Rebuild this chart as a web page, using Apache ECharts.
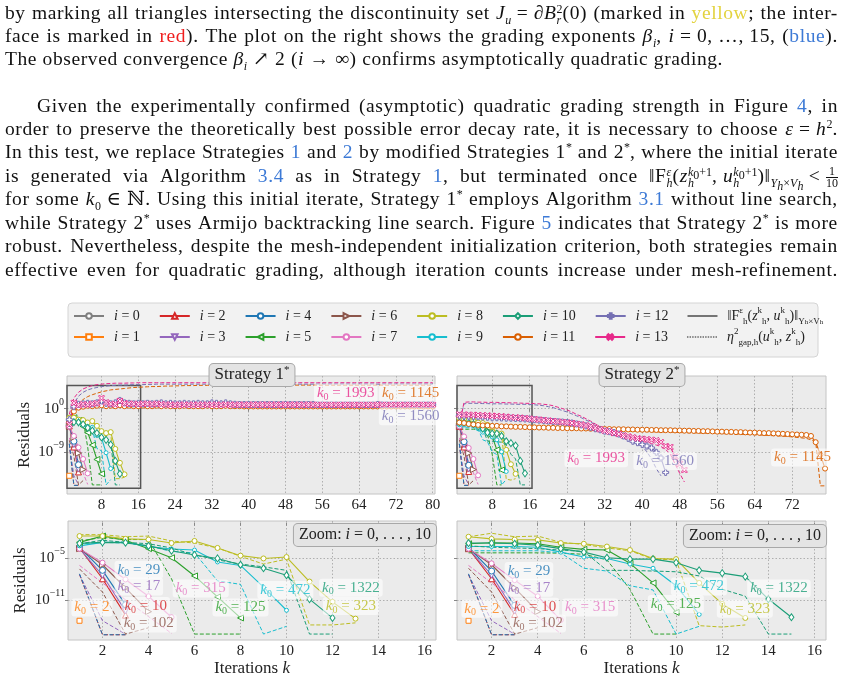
<!DOCTYPE html>
<html>
<head>
<meta charset="utf-8">
<script src="https://cdn.jsdelivr.net/npm/echarts@6/dist/echarts.min.js"></script>
<style>
html, body { margin: 0; padding: 0; background: #fff; }
#chart { position: absolute; left: 0; top: 0; width: 843px; height: 692px; }
.ln { position: absolute; left: 5px; width: 833px; height: 24px; line-height: 24px;
      font-family: 'Liberation Serif', 'DejaVu Serif', serif; font-size: 19.5px; letter-spacing: 0.6px;
      color: #111; white-space: nowrap; }
.j { display: flex; justify-content: space-between; }
.lk { color: #3d7ad6; }
sup, sub { font-size: 12px; line-height: 0; letter-spacing: 0; }
.ss { display: inline-flex; flex-direction: column; font-size: 12px; line-height: 11px; vertical-align: 6px; letter-spacing: 0; }
.fr { display: inline-flex; flex-direction: column; font-size: 12px; line-height: 11px; vertical-align: 7px; text-align: center; letter-spacing: 0; }
.fr span + span { border-top: 1px solid #111; }
</style>
</head>
<body>
<div id="chart"></div>
<div id="text"></div>
<script>
// ---- data: residual exponents log10(value), index = k - 1 ----
var colors = ['#7f7f7f', '#ff7f0e', '#d62728', '#9467bd', '#1f77b4', '#2ca02c', '#8c564b',
              '#e377c2', '#bcbd22', '#17becf', '#1b9e77', '#d95f02', '#7570b3', '#e7298a'];
var names = ['i = 0', 'i = 1', 'i = 2', 'i = 3', 'i = 4', 'i = 5', 'i = 6',
             'i = 7', 'i = 8', 'i = 9', 'i = 10', 'i = 11', 'i = 12', 'i = 13'];
var k0Values = ['', '2', '10', '17', '29', '125', '102', '315', '323', '472', '1322', '1145', '1560', '1993'];

var kTicksTop1 = [8, 16, 24, 32, 40, 48, 56, 64, 72, 80];
var kTicksTop2 = [8, 16, 24, 32, 40, 48, 56, 64, 72];
var kTicksZoom = [2, 4, 6, 8, 10, 12, 14, 16];
var expTicksTop = [-9, 0];
var expTicksZoom = [-11, -5];

// Strategy 1*: ||F|| residuals
var res1 = [
  [],
  [-14.0],
  [-3.6, -8.0, -13.2],
  [-3.7, -7.5, -12.6],
  [-3.5, -6.8, -11.7],
  [-2.8, -1.9, -2.5, -3.7, -5.0, -7.6, -10.6, -13.6],
  [-3.7, -6.0, -9.3, -12.7],
  [-3.7, -5.7, -8.1, -10.5, -13.5],
  [-1.9, -1.9, -2.3, -2.4, -2.9, -2.6, -3.6, -4.7, -5.1, -4.9, -8.4, -11.3, -13.7],
  [-3.3, -2.8, -2.8, -3.4, -3.75, -3.9, -5.6, -6.1, -9.2, -12.5],
  [-2.95, -2.8, -2.85, -3.3, -4.0, -4.6, -5.1, -6.0, -6.5, -7.5, -10.9, -13.6],
  [-2.9, -0.6, 0.2, 0.4, 0.6, 0.5, 0.6, 0.7,
   0.5, 0.6, 0.5, 0.7, 0.5, 0.6, 0.5, 0.5,
   0.6, 0.5, 0.5, 0.6, 0.5, 0.6, 0.5, 0.5,
   0.5, 0.6, 0.5, 0.5, 0.5, 0.5, 0.6, 0.5,
   0.5, 0.5, 0.6, 0.5, 0.5, 0.5, 0.45, 0.45,
   0.45, 0.45, 0.45, 0.45, 0.45, 0.45, 0.45, 0.45,
   0.45, 0.45, 0.45, 0.45, 0.45, 0.45, 0.45, 0.45,
   0.45, 0.45, 0.45, 0.45, 0.45, 0.45, 0.45, 0.45,
   0.45, 0.45, 0.45, 0.45, 0.45, 0.45, 0.45, 0.45,
   0.45, 0.45, 0.45, 0.45, 0.45, 0.45, 0.45, 0.45],
  [-2.3, 0.4, 0.9, 1.0, 1.1, 1.0, 1.2, 1.6,
   1.1, 1.0, 1.2, 1.7, 1.2, 1.1, 1.0, 1.1,
   1.0, 1.1, 1.0, 1.1, 1.2, 1.0, 1.1, 1.0,
   1.0, 1.1, 1.0, 1.0, 1.1, 1.0, 1.0, 1.2,
   1.1, 1.0, 1.2, 1.0, 0.9, 0.85, 0.85, 0.85,
   0.85, 0.85, 0.85, 0.85, 0.85, 0.85, 0.85, 0.85,
   0.85, 0.85, 0.85, 0.85, 0.85, 0.85, 0.85, 0.85,
   0.85, 0.85, 0.85, 0.85, 0.85, 0.85, 0.85, 0.85,
   0.85, 0.85, 0.85, 0.85, 0.85, 0.85, 0.85, 0.85,
   0.85, 0.85, 0.85, 0.85, 0.85, 0.85, 0.85, 0.85],
  [-3.3, 1.2, 0.7, 0.9, 0.8, 1.0, 1.1, 2.2,
   1.3, 1.0, 0.9, 1.6, 1.1, 1.0, 1.0, 0.9,
   1.0, 1.0, 0.9, 1.0, 0.9, 0.85, 0.8, 0.8,
   0.8, 0.8, 0.8, 0.8, 0.8, 0.8, 0.8, 0.8,
   0.8, 0.8, 0.8, 0.8, 0.8, 0.8, 0.8, 0.8,
   0.8, 0.8, 0.8, 0.8, 0.8, 0.8, 0.8, 0.8,
   0.8, 0.8, 0.8, 0.8, 0.8, 0.8, 0.8, 0.8,
   0.8, 0.8, 0.8, 0.8, 0.8, 0.8, 0.8, 0.8,
   0.8, 0.8, 0.8, 0.8, 0.8, 0.8, 0.8, 0.8,
   0.8, 0.8, 0.8, 0.8, 0.8, 0.8, 0.8, 0.8]
];
// Strategy 1*: eta^2 gap estimator
var gap1 = [
  [],
  [],
  [-7.4, -16.0, -16.0],
  [-7.4, -14.0, -15.9],
  [-7.3, -16.0, -16.0],
  [-2.6, -2.1, -2.4, -2.4, -8.0, -15.9, -15.9, -15.9],
  [-6.6, -9.9, -15.9, -15.0],
  [-6.1, -8.6, -11.0, -13.4, -15.8],
  [-1.7, -1.7, -2.0, -1.9, -2.6, -2.9, -3.6, -4.8, -5.9, -5.2, -14.6, -14.6, -14.3],
  [-3.0, -2.8, -2.9, -3.3, -4.1, -4.3, -8.3, -8.8, -15.9, -14.8],
  [-3.0, -2.5, -2.8, -3.0, -3.6, -4.6, -5.3, -5.9, -6.3, -6.8, -15.9, -15.9],
  [-2.6, -0.3, 1.0, 1.9, 2.5, 2.9, 3.2, 3.5,
   3.7, 3.9, 4.0, 4.1, 4.2, 4.3, 4.4, 4.45,
   4.5, 4.55, 4.6, 4.6, 4.65, 4.7, 4.7, 4.75,
   4.75, 4.8, 4.8, 4.8, 4.85, 4.85, 4.85, 4.9,
   4.9, 4.9, 4.9, 4.9, 4.9, 4.9, 4.9, 4.9,
   4.9, 4.9, 4.9, 4.9, 4.9, 4.9, 4.9, 4.9,
   4.9, 4.9, 4.9, 4.9, 4.9, 4.9, 4.9, 4.9,
   4.9, 4.9, 4.9, 4.9, 4.9, 4.9, 4.9, 4.9,
   4.9, 4.9, 4.9, 4.9, 4.9, 4.9, 4.9, 4.9,
   4.9, 4.9, 4.9, 4.9, 4.9, 4.9, 4.9, 4.9],
  [-2.0, 1.0, 2.6, 3.4, 3.9, 4.2, 4.4, 4.6,
   4.7, 4.8, 4.85, 4.9, 4.9, 4.95, 5.0, 5.0,
   5.0, 5.05, 5.05, 5.1, 5.1, 5.1, 5.1, 5.1,
   5.1, 5.1, 5.1, 5.1, 5.1, 5.1, 5.1, 5.1,
   5.1, 5.1, 5.1, 5.1, 5.1, 5.1, 5.1, 5.1,
   5.1, 5.1, 5.1, 5.1, 5.1, 5.1, 5.1, 5.1,
   5.1, 5.1, 5.1, 5.1, 5.1, 5.1, 5.1, 5.1,
   5.1, 5.1, 5.1, 5.1, 5.1, 5.1, 5.1, 5.1,
   5.1, 5.1, 5.1, 5.1, 5.1, 5.1, 5.1, 5.1,
   5.1, 5.1, 5.1, 5.1, 5.1, 5.1, 5.1, 5.1],
  [-1.2, 2.2, 3.4, 4.1, 4.5, 4.8, 5.0, 5.1,
   5.2, 5.25, 5.3, 5.3, 5.3, 5.35, 5.35, 5.4,
   5.4, 5.4, 5.4, 5.4, 5.4, 5.4, 5.4, 5.4,
   5.4, 5.4, 5.4, 5.4, 5.4, 5.4, 5.4, 5.4,
   5.4, 5.4, 5.4, 5.4, 5.4, 5.4, 5.4, 5.4,
   5.4, 5.4, 5.4, 5.4, 5.4, 5.4, 5.4, 5.4,
   5.4, 5.4, 5.4, 5.4, 5.4, 5.4, 5.4, 5.4,
   5.4, 5.4, 5.4, 5.4, 5.4, 5.4, 5.4, 5.4,
   5.4, 5.4, 5.4, 5.4, 5.4, 5.4, 5.4, 5.4,
   5.4, 5.4, 5.4, 5.4, 5.4, 5.4, 5.4, 5.4]
];

// Strategy 2*: ||F|| residuals
var res2 = [
  [],
  [-14.0],
  [-3.7, -8.0, -13.1],
  [-3.7, -7.5, -12.6],
  [-3.5, -6.9, -11.8],
  [-3.0, -2.85, -2.9, -3.0, -3.5, -3.8, -3.9, -5.8, -8.6, -12.8],
  [-3.7, -6.0, -9.3, -12.7],
  [-3.7, -5.8, -8.2, -10.5, -13.9],
  [-2.0, -2.3, -2.4, -2.45, -2.9, -3.0, -3.4, -3.9, -5.1, -5.2, -8.6, -11.6, -13.6],
  [-3.4, -3.4, -3.4, -3.5, -4.2, -4.9, -5.1, -5.9, -6.5, -9.0, -13.1],
  [-2.9, -2.9, -3.0, -3.2, -3.7, -4.2, -5.0, -5.2, -5.2, -5.7, -6.8, -7.2, -7.7, -10.9, -13.5],
  [-2.9, -3.0, -3.2, -3.3, -3.4, -3.5, -3.5, -3.6,
   -3.6, -3.7, -3.7, -3.75, -3.8, -3.8, -3.85, -3.9,
   -3.9, -3.95, -3.95, -4.0, -4.0, -4.05, -4.05, -4.1,
   -4.1, -4.1, -4.15, -4.15, -4.2, -4.2, -4.2, -4.25,
   -4.25, -4.3, -4.3, -4.3, -4.35, -4.35, -4.4, -4.4,
   -4.4, -4.45, -4.45, -4.5, -4.5, -4.5, -4.55, -4.55,
   -4.6, -4.6, -4.65, -4.65, -4.7, -4.7, -4.75, -4.8,
   -4.8, -4.85, -4.85, -4.9, -4.9, -4.95, -5.0, -5.0,
   -5.05, -5.1, -5.1, -5.15, -5.2, -5.25, -5.3, -5.35,
   -5.4, -5.45, -5.5, -5.7, -7.0, -9.6, -12.5],
  [-1.5, -1.55, -1.6, -1.65, -1.7, -1.75, -1.8, -1.9,
   -1.9, -1.95, -2.0, -2.0, -2.05, -2.1, -2.15, -2.2,
   -2.3, -2.4, -2.5, -2.6, -2.7, -2.75, -2.8, -2.9,
   -3.0, -3.2, -3.4, -3.6, -3.9, -4.2, -4.4, -4.7,
   -4.8, -5.0, -5.3, -5.7, -6.2, -6.8, -7.1, -7.5,
   -7.8, -8.2, -9.1, -10.3, -13.3],
  [-1.2, -1.25, -1.3, -1.3, -1.35, -1.4, -1.45, -1.5,
   -1.55, -1.6, -1.7, -1.8, -1.85, -1.9, -2.0, -2.1,
   -2.2, -2.3, -2.4, -2.5, -2.6, -2.7, -2.8, -2.9,
   -3.0, -3.2, -3.3, -3.5, -3.7, -4.0, -4.3, -4.6,
   -4.8, -5.1, -5.3, -5.6, -5.8, -6.0, -6.2, -6.3,
   -6.4, -6.5, -6.6, -7.0, -7.8, -8.0, -10.0, -11.5,
   -12.8]
];
// Strategy 2*: eta^2 gap estimator
var gap2 = [
  [],
  [],
  [-7.4, -16.0, -16.0],
  [-7.4, -14.0, -15.9],
  [-7.3, -16.0, -16.0],
  [-4.3, -4.3, -4.3, -4.3, -4.35, -4.5, -5.3, -9.5, -15.9, -15.9],
  [-6.5, -9.9, -15.9, -15.0],
  [-6.1, -8.6, -11.0, -13.4, -15.8],
  [-2.0, -1.5, -2.0, -1.9, -2.8, -3.1, -3.6, -4.0, -5.2, -5.3, -14.7, -14.9, -14.6],
  [-4.0, -4.0, -4.0, -4.0, -4.3, -6.5, -6.9, -9.0, -9.6, -15.9, -14.8],
  [-3.3, -3.5, -3.6, -3.7, -3.9, -4.1, -6.8, -6.8, -6.9, -7.0, -7.6, -9.5, -10.5, -15.9, -15.9],
  [-2.6, -2.8, -3.0, -3.1, -3.2, -3.3, -3.35, -3.4,
   -3.45, -3.5, -3.55, -3.6, -3.65, -3.7, -3.75, -3.8,
   -3.85, -3.9, -3.95, -4.0, -4.05, -4.1, -4.15, -4.2,
   -4.25, -4.3, -4.35, -4.4, -4.45, -4.5, -4.55, -4.6,
   -4.6, -4.65, -4.65, -4.7, -4.7, -4.75, -4.75, -4.8,
   -4.8, -4.85, -4.85, -4.9, -4.9, -4.95, -4.95, -5.0,
   -5.0, -5.05, -5.05, -5.1, -5.1, -5.15, -5.15, -5.2,
   -5.2, -5.25, -5.3, -5.3, -5.35, -5.4, -5.4, -5.45,
   -5.5, -5.55, -5.6, -5.65, -5.7, -5.75, -5.8, -5.9,
   -6.0, -6.1, -6.2, -6.5, -6.9, -16.1, -16.1],
  [-3.0, 1.0, 1.1, 1.1, 1.1, 1.05, 1.05, 1.0,
   1.0, 1.0, 0.95, 0.95, 0.9, 0.9, 0.9, 0.85,
   0.8, 0.7, 0.6, 0.4, 0.2, -0.1, -0.4, -0.7,
   -1.1, -1.5, -1.9, -2.4, -2.8, -3.3, -3.8, -4.3,
   -4.6, -5.0, -5.4, -5.8, -6.2, -6.6, -7.1, -7.8,
   -9.0, -10.5, -12.5, -14.0],
  [-3.3, 1.3, 1.4, 1.4, 1.35, 1.35, 1.3, 1.3,
   1.3, 1.25, 1.25, 1.2, 1.2, 1.15, 1.1, 1.1,
   1.05, 1.0, 0.9, 0.8, 0.6, 0.3, 0.0, -0.3,
   -0.7, -1.2, -1.6, -2.1, -2.6, -3.2, -3.8, -4.5,
   -4.9, -5.2, -5.5, -5.8, -6.0, -6.2, -6.5, -6.8,
   -7.0, -7.3, -7.6, -7.9, -8.5, -9.5, -11.5, -13.5,
   -15.3]
];

// ---- annotation placement (label centres in data units: [k, exponent]) ----
var zoomLabelAt1 = {1: [1.54, -12.1], 2: [3.88, -11.9], 3: [3.58, -9.1], 4: [3.58, -6.7], 5: [8.0, -12.1],
                    6: [4.01, -14.4], 7: [6.27, -9.4], 8: [12.8, -11.9], 9: [9.95, -9.6], 10: [12.8, -9.3]};
var zoomLabelAt2 = {1: [1.58, -12.3], 2: [3.88, -12.0], 3: [3.62, -9.3], 4: [3.62, -6.9], 5: [9.99, -11.6],
                    6: [4.01, -14.4], 7: [6.27, -12.1], 8: [12.98, -12.3], 9: [10.99, -9.1], 10: [14.46, -9.4]};
var topLabelAt1 = {11: [75.2, 3.25], 12: [75.2, -1.6], 13: [61.1, 3.25]};
var topLabelAt2 = {11: [74.2, -10.2], 12: [44.9, -10.9], 13: [30.2, -10.35]};

var FONT = "'Liberation Serif', 'DejaVu Serif', serif";
var plusPath = 'path://M-1,-3H1V-1H3V1H1V3H-1V1H-3V-1H-1Z';
var xPath = 'path://M-2,-3L0,-1L2,-3L3,-2L1,0L3,2L2,3L0,1L-2,3L-3,2L-1,0L-3,-2Z';
var marks = [
  ['circle', 4, 0], ['rect', 5, 0], ['triangle', 6, 0], ['triangle', 6, 180], ['circle', 6, 0],
  ['triangle', 6, 90], ['triangle', 6, -90], ['circle', 5, 0], ['circle', 5, 0], ['circle', 4, 0],
  ['diamond', [5, 7], 0], ['circle', 5, 0], [plusPath, 6, 0], [xPath, 6, 0]
];

function pts(arr) {
  return arr.map(function (v, j) { return [j + 1, v]; });
}

var series = [];

function addRuns(g, res, gap, count) {
  for (var i = 0; i < count; i++) {
    var c = colors[i];
    series.push({
      type: 'line', name: names[i], xAxisIndex: g, yAxisIndex: g, data: pts(res[i]),
      symbol: marks[i][0], symbolSize: marks[i][1], symbolRotate: marks[i][2],
      showSymbol: true, showAllSymbol: true,
      itemStyle: {color: '#fff', borderColor: c, borderWidth: 1},
      lineStyle: {color: c, width: 1.1},
      emphasis: {disabled: true}, silent: true
    });
    series.push({
      type: 'line', name: names[i], xAxisIndex: g, yAxisIndex: g, data: pts(gap[i]),
      symbol: 'none', lineStyle: {color: c, width: 1, type: [4, 2]},
      emphasis: {disabled: true}, silent: true
    });
  }
}

// legend helper series (black line styles)
series.push({type: 'line', name: 'F', xAxisIndex: 0, yAxisIndex: 0, data: [], symbol: 'none',
             itemStyle: {color: '#222'}, lineStyle: {color: '#222', width: 1.2}});
series.push({type: 'line', name: 'eta', xAxisIndex: 0, yAxisIndex: 0, data: [], symbol: 'none',
             itemStyle: {color: '#222'}, lineStyle: {color: '#222', width: 1, type: [2, 1.5]}});

addRuns(0, res1, gap1, 14);
addRuns(1, res2, gap2, 14);
addRuns(2, res1, gap1, 11);
addRuns(3, res2, gap2, 11);

var labelRich = {
  it: {fontFamily: FONT, fontStyle: 'italic', fontSize: 15, lineHeight: 18},
  sub: {fontFamily: FONT, fontSize: 10, verticalAlign: 'bottom'}
};

function addLabels(g, at) {
  Object.keys(at).forEach(function (key) {
    var i = +key;
    series.push({
      type: 'scatter', xAxisIndex: g, yAxisIndex: g, symbolSize: 1, silent: true,
      itemStyle: {color: 'rgba(0,0,0,0)'}, z: 10,
      data: [at[key]],
      label: {
        show: true, position: 'inside', color: colors[i],
        fontFamily: FONT, fontSize: 15, lineHeight: 18,
        backgroundColor: 'rgba(255,255,255,0.72)', borderRadius: 3, padding: [0, 3],
        formatter: '{it|k}{sub|0} = ' + k0Values[i], rich: labelRich
      }
    });
  });
}
addLabels(0, topLabelAt1);
addLabels(1, topLabelAt2);
addLabels(2, zoomLabelAt1);
addLabels(3, zoomLabelAt2);

// zoom window marker on the overview panels
[0, 1].forEach(function (g) {
  series.push({
    type: 'line', xAxisIndex: g, yAxisIndex: g, data: [], silent: true,
    markArea: {
      silent: true,
      itemStyle: {color: 'rgba(0,0,0,0)', borderColor: '#555', borderWidth: 1.5},
      data: [[{coord: [0.5, 4.8]}, {coord: [16.5, -16.6]}]]
    }
  });
});

function expLabel(v) {
  return '10{sup|' + (v < 0 ? '\u2212' + (-v) : v) + '}';
}

var gridStyle = {show: true, backgroundColor: '#ebebeb', borderColor: '#c4c4c4', borderWidth: 1};
var split = {show: true, lineStyle: {type: [1.5, 2], color: '#a8a8a8', width: 0.9}};
var tick = {show: true, length: 3, lineStyle: {color: '#888'}};

function xAx(g, max, ticks, withName) {
  return {
    type: 'value', gridIndex: g, min: 0.5, max: max,
    axisLine: {show: false},
    axisTick: Object.assign({customValues: ticks}, tick),
    axisLabel: {customValues: ticks, margin: 4, fontFamily: FONT, fontSize: 15, color: '#222'},
    splitLine: split,
    name: withName ? 'Iterations {it|k}' : '', nameLocation: 'middle', nameGap: 17,
    nameTextStyle: {fontFamily: FONT, fontSize: 17, color: '#222',
                    rich: {it: {fontFamily: FONT, fontStyle: 'italic', fontSize: 17}}}
  };
}

function yAx(g, min, max, ticks, withLabels, gapName) {
  return {
    type: 'value', gridIndex: g, min: min, max: max,
    axisLine: {show: false},
    axisTick: Object.assign({customValues: ticks}, tick),
    axisLabel: {show: withLabels, customValues: ticks, margin: 3, formatter: expLabel,
                fontFamily: FONT, fontSize: 15, lineHeight: 22, color: '#222',
                rich: {sup: {fontFamily: FONT, fontSize: 10, verticalAlign: 'top', color: '#222'}}},
    splitLine: split,
    name: withLabels ? 'Residuals' : '', nameLocation: 'middle', nameGap: gapName,
    nameTextStyle: {fontFamily: FONT, fontSize: 17, color: '#222'}
  };
}

var legendRich = {
  it: {fontFamily: FONT, fontStyle: 'italic', fontSize: 14, lineHeight: 20, color: '#222'},
  sup: {fontFamily: FONT, fontSize: 9, verticalAlign: 'top', color: '#222'},
  sub: {fontFamily: FONT, fontSize: 9, verticalAlign: 'bottom', color: '#222'},
  sub2: {fontFamily: FONT, fontSize: 7, verticalAlign: 'bottom', color: '#222'}
};
function legendText(name) {
  if (name === 'F') {
    return '\u2016F{sup|\u03b5}{sub|h}({it|z}{sup|k}{sub|h}, {it|u}{sup|k}{sub|h})\u2016{sub|Y}{sub2|h}{sub|\u00d7V}{sub2|h}';
  }
  if (name === 'eta') {
    return '{it|\u03b7}{sup|2}{sub|gap,h}({it|u}{sup|k}{sub|h}, {it|z}{sup|k}{sub|h})';
  }
  return '{it|i} = ' + name.slice(4);
}
// legend icons for the two line-style entries
var dotIcon = 'path://';
for (var d = 0; d < 12; d++) {
  dotIcon += 'M' + (d * 2.5) + ',0H' + (d * 2.5 + 1.4) + 'V1H' + (d * 2.5) + 'Z';
}
var row1 = ['i = 0', 'i = 2', 'i = 4', 'i = 6', 'i = 8', 'i = 10', 'i = 12',
            {name: 'F', icon: 'path://M0,0H30V1.2H0Z', itemStyle: {color: '#222'}}];
var row2 = ['i = 1', 'i = 3', 'i = 5', 'i = 7', 'i = 9', 'i = 11', 'i = 13',
            {name: 'eta', icon: dotIcon, itemStyle: {color: '#222'}}];
function legendRow(data, top) {
  return {
    data: data, left: 73, top: top, orient: 'horizontal', padding: 0,
    itemWidth: 30, itemHeight: 7, itemGap: 19, selectedMode: false, z: 6,
    formatter: legendText,
    textStyle: {fontFamily: FONT, fontSize: 14, lineHeight: 20, color: '#222',
                padding: [0, 0, 0, 5], rich: legendRich}
  };
}

var boxRich = {
  sup: {fontFamily: FONT, fontSize: 11, verticalAlign: 'top', color: '#222'},
  it: {fontFamily: FONT, fontStyle: 'italic', fontSize: 16, lineHeight: 20, color: '#222'}
};
function boxText(x, y, text, size) {
  return {
    type: 'text', x: x, y: y, z: 50, silent: true,
    style: {
      text: text, align: 'center', verticalAlign: 'middle',
      fontFamily: FONT, fontSize: size, lineHeight: 20, fill: '#222',
      backgroundColor: '#e4e4e4', borderColor: '#a8a8a8', borderWidth: 1, borderRadius: 4,
      padding: [1, 5], rich: boxRich
    }
  };
}

var option = {
  animation: false,
  textStyle: {fontFamily: FONT},
  grid: [
    Object.assign({left: 67, top: 376, width: 368, height: 118}, gridStyle),
    Object.assign({left: 457, top: 376, width: 369, height: 118}, gridStyle),
    Object.assign({left: 68, top: 521, width: 368, height: 119}, gridStyle),
    Object.assign({left: 457, top: 521, width: 369, height: 119}, gridStyle)
  ],
  xAxis: [
    xAx(0, 80.5, kTicksTop1, false),
    xAx(1, 79.2, kTicksTop2, false),
    xAx(2, 16.5, kTicksZoom, true),
    xAx(3, 16.5, kTicksZoom, true)
  ],
  yAxis: [
    yAx(0, -17.8, 6.8, expTicksTop, true, 34),
    yAx(1, -17.8, 6.8, expTicksTop, false, 0),
    yAx(2, -16.75, 0.25, expTicksZoom, true, 39),
    yAx(3, -16.75, 0.25, expTicksZoom, false, 0)
  ],
  legend: [legendRow(row1, 306), legendRow(row2, 327)],
  graphic: [
    {type: 'rect', z: 1, silent: true, shape: {x: 68, y: 303, width: 750, height: 54, r: 4},
     style: {fill: '#f2f2f2', stroke: '#d4d4d4', lineWidth: 1}},
    boxText(252, 375, 'Strategy 1{sup|*}', 17),
    boxText(642, 375, 'Strategy 2{sup|*}', 17),
    boxText(365, 535, 'Zoom: {it|i} = 0, . . . , 10', 16),
    boxText(755, 536, 'Zoom: {it|i} = 0, . . . , 10', 16)
  ],
  series: series
};

var chart = echarts.init(document.getElementById('chart'), null, {renderer: 'canvas'});
chart.setOption(option);

// ---- page prose around the figure ----
var textLines = [
  {top: 1, j: true, h: 'by marking all triangles intersecting the discontinuity set <i>J</i><sub><i>u</i></sub>&nbsp;=&nbsp;∂<i>B</i><span class=ss><span>2</span><span><i>r</i></span></span>(0) (marked in <span style=color:#e3d33f>yellow</span>; the inter-'},
  {top: 24, j: true, h: 'face is marked in <span style=color:#f01e1e>red</span>). The plot on the right shows the grading exponents <i>β</i><sub><i>i</i></sub>, <i>i</i>&nbsp;=&nbsp;0,&nbsp;…,&nbsp;15, (<span class=lk>blue</span>).'},
  {top: 47, j: false, h: 'The observed convergence <i>β</i><sub><i>i</i></sub> ↗ 2 (<i>i</i> → ∞) confirms asymptotically quadratic grading.'},
  {top: 94, j: true, indent: 32, h: 'Given the experimentally confirmed (asymptotic) quadratic grading strength in Figure <span class=lk>4</span>, in'},
  {top: 117, j: true, h: 'order to preserve the theoretically best possible error decay rate, it is necessary to choose <i>ε</i>&nbsp;=&nbsp;<i>h</i><sup>2</sup>.'},
  {top: 140, j: true, h: 'In this test, we replace Strategies <span class=lk>1</span> and <span class=lk>2</span> by modified Strategies 1<sup>*</sup> and 2<sup>*</sup>, where the initial iterate'},
  {top: 164, j: true, h: 'is generated via Algorithm <span class=lk>3.4</span> as in Strategy <span class=lk>1</span>, but terminated once ‖F<span class=ss><span><i>ε</i></span><span><i>h</i></span></span>(<i>z</i><span class=ss><span><i>k</i><sub>0</sub>+1</span><span><i>h</i></span></span>,&nbsp;<i>u</i><span class=ss><span><i>k</i><sub>0</sub>+1</span><span><i>h</i></span></span>)‖<sub><i>Y</i><sub><i>h</i></sub>×<i>V</i><sub><i>h</i></sub></sub>&nbsp;&lt;&nbsp;<span class=fr><span>1</span><span>10</span></span>'},
  {top: 187, j: true, h: 'for some <i>k</i><sub>0</sub>&nbsp;∈&nbsp;ℕ. Using this initial iterate, Strategy 1<sup>*</sup> employs Algorithm <span class=lk>3.1</span> without line search,'},
  {top: 211, j: true, h: 'while Strategy 2<sup>*</sup> uses Armijo backtracking line search. Figure <span class=lk>5</span> indicates that Strategy 2<sup>*</sup> is more'},
  {top: 234, j: true, h: 'robust. Nevertheless, despite the mesh-independent initialization criterion, both strategies remain'},
  {top: 258, j: true, h: 'effective even for quadratic grading, although iteration counts increase under mesh-refinement.'}
];

var holder = document.getElementById('text');
textLines.forEach(function (ln) {
  var el = document.createElement('div');
  el.className = ln.j ? 'ln j' : 'ln';
  el.style.top = ln.top + 'px';
  if (ln.indent) { el.style.left = (5 + ln.indent) + 'px'; el.style.width = (833 - ln.indent) + 'px'; }
  if (ln.j) {
    ln.h.split(/ (?![^<]*>)/).forEach(function (w) {
      var s = document.createElement('span');
      s.innerHTML = w;
      el.appendChild(s);
    });
  } else {
    el.innerHTML = ln.h;
  }
  holder.appendChild(el);
});
</script>
</body>
</html>
